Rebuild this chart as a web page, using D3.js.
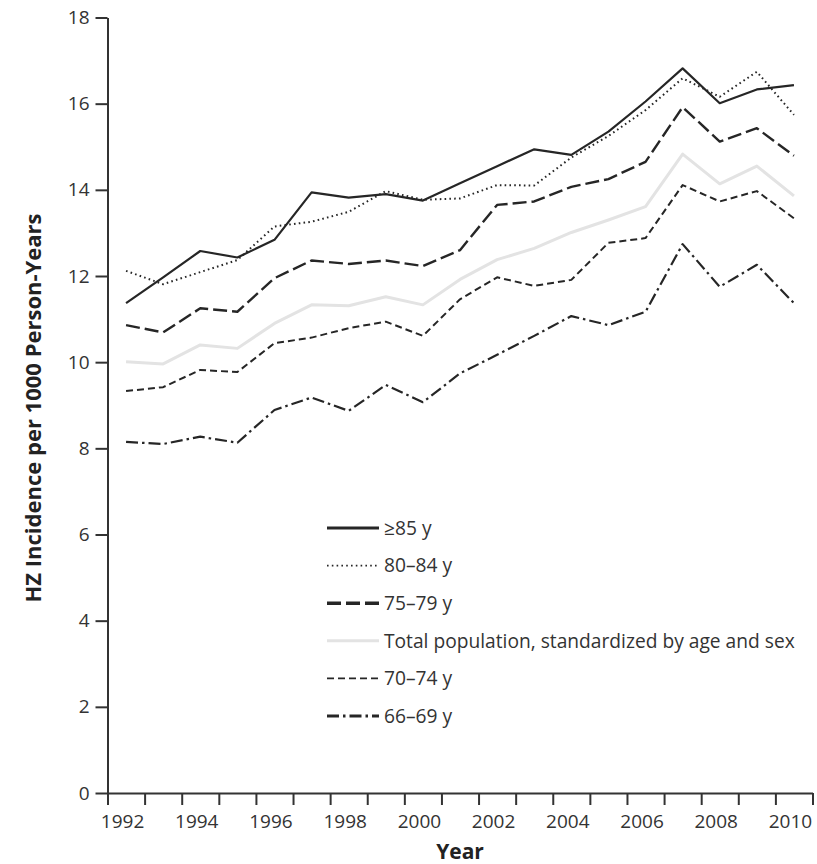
<!DOCTYPE html>
<html>
<head>
<meta charset="utf-8">
<script src="https://cdn.jsdelivr.net/npm/d3@7/dist/d3.min.js"></script>
<style>
  html, body { margin: 0; padding: 0; background: #fff; }
  svg { display: block; font-family: "Open Sans", Lato, sans-serif; }
</style>
</head>
<body>
<svg id="chart" width="817" height="864"></svg>
<script>
// Herpes zoster incidence per 1000 person-years, by age group
const years = d3.range(1992, 2011);
const yearLabels = [1992, 1994, 1996, 1998, 2000, 2002, 2004, 2006, 2008, 2010];
const yTicks = [0, 2, 4, 6, 8, 10, 12, 14, 16, 18];

const seriesNames = ["≥85 y", "80–84 y", "75–79 y",
  "Total population, standardized by age and sex", "70–74 y", "66–69 y"];

const age85plus = [11.37, 11.97, 12.58, 12.43, 12.84, 13.94, 13.82, 13.90, 13.75, 14.15,
  14.55, 14.94, 14.81, 15.35, 16.05, 16.82, 16.01, 16.33, 16.43];
const age80to84 = [12.12, 11.81, 12.09, 12.37, 13.15, 13.26, 13.49, 13.97, 13.77, 13.80,
  14.11, 14.10, 14.75, 15.25, 15.85, 16.59, 16.16, 16.74, 15.74];
const age75to79 = [10.86, 10.69, 11.25, 11.17, 11.95, 12.36, 12.28, 12.36, 12.23, 12.60,
  13.65, 13.73, 14.07, 14.25, 14.65, 15.92, 15.12, 15.43, 14.79];
const totalStd = [10.01, 9.96, 10.40, 10.32, 10.90, 11.33, 11.31, 11.52, 11.33, 11.92,
  12.38, 12.64, 13.01, 13.30, 13.61, 14.83, 14.14, 14.55, 13.86];
const age70to74 = [9.33, 9.42, 9.82, 9.77, 10.44, 10.57, 10.79, 10.94, 10.61, 11.46,
  11.97, 11.77, 11.91, 12.77, 12.88, 14.11, 13.73, 13.97, 13.34];
const age66to69 = [8.15, 8.10, 8.27, 8.13, 8.89, 9.18, 8.87, 9.47, 9.07, 9.74,
  10.17, 10.61, 11.07, 10.86, 11.17, 12.74, 11.75, 12.26, 11.37];

const seriesValues = [age85plus, age80to84, age75to79, totalStd, age70to74, age66to69];

// line styles for each series, in the same order
const styles = [
  { stroke: "#262626", width: 2.2, dash: null, legendWidth: 3 },
  { stroke: "#262626", width: 2, dash: "1.6,3.2", legendWidth: 1.6 },
  { stroke: "#262626", width: 2.4, dash: "14,5", legendWidth: 3.4 },
  { stroke: "#e3e3e3", width: 3, dash: null, legendWidth: 3 },
  { stroke: "#262626", width: 2, dash: "7,4", legendWidth: 1.8 },
  { stroke: "#262626", width: 2.2, dash: "12,4,2.5,4", legendWidth: 3 }
];

const svg = d3.select("#chart");
const axisColor = "#333";

const x = d3.scaleLinear().domain([1991.5, 2010.5]).range([107.5, 812.5]);
const y = d3.scaleLinear().domain([0, 18]).range([793, 17.5]);

// x axis: ticks on year boundaries, labels centred in the year interval
const xAxis = svg.append("g")
  .attr("transform", `translate(0,${y(0)})`)
  .call(d3.axisBottom(x)
    .tickValues(d3.range(1991.5, 2011, 1))
    .tickSize(12).tickSizeOuter(0)
    .tickFormat(""));
xAxis.select(".domain").attr("stroke", axisColor).attr("stroke-width", 2);
xAxis.selectAll(".tick line").attr("stroke", axisColor).attr("stroke-width", 2);

const xLabels = svg.append("g")
  .attr("transform", `translate(0,${y(0)})`)
  .call(d3.axisBottom(x).tickValues(yearLabels).tickSize(0).tickPadding(22).tickFormat(d3.format("d")));
xLabels.select(".domain").remove();
xLabels.selectAll("text")
  .attr("font-size", 19).attr("font-family", "'Open Sans', sans-serif")
  .attr("fill", "#333").attr("dx", -4);

// y axis
const yAxis = svg.append("g")
  .attr("transform", `translate(${x(1991.5)},0)`)
  .call(d3.axisLeft(y).tickValues(yTicks).tickSize(12).tickSizeOuter(0).tickPadding(6));
yAxis.select(".domain").attr("stroke", axisColor).attr("stroke-width", 2);
yAxis.selectAll(".tick line").attr("stroke", axisColor).attr("stroke-width", 2);
yAxis.selectAll("text")
  .attr("font-size", 19).attr("font-family", "'Open Sans', sans-serif").attr("fill", "#333");

// axis titles
svg.append("text")
  .attr("x", 460).attr("y", 859)
  .attr("text-anchor", "middle")
  .attr("font-size", 21).attr("font-weight", "bold").attr("fill", "#222")
  .text("Year");

svg.append("text")
  .attr("transform", "translate(41,408) rotate(-90)")
  .attr("text-anchor", "middle")
  .attr("font-size", 22).attr("font-weight", "bold").attr("fill", "#222")
  .text("HZ Incidence per 1000 Person-Years");

// series lines (total population drawn first so it sits underneath)
const line = d3.line()
  .x((d, i) => x(years[i]))
  .y(d => y(d));

const drawOrder = [3, 5, 4, 2, 1, 0];
const linesG = svg.append("g");
drawOrder.forEach(k => {
  linesG.append("path")
    .datum(seriesValues[k])
    .attr("d", line)
    .attr("fill", "none")
    .attr("stroke", styles[k].stroke)
    .attr("stroke-width", styles[k].width)
    .attr("stroke-dasharray", styles[k].dash)
    .attr("stroke-linejoin", "round");
});

// legend
const legend = svg.append("g").attr("transform", "translate(327,528)");
seriesNames.forEach((name, i) => {
  const row = legend.append("g").attr("transform", `translate(0,${i * 37.6})`);
  row.append("line")
    .attr("x1", 0).attr("x2", 52).attr("y1", 0).attr("y2", 0)
    .attr("stroke", styles[i].stroke)
    .attr("stroke-width", styles[i].legendWidth)
    .attr("stroke-dasharray", styles[i].dash);
  row.append("text")
    .attr("x", 57).attr("y", 0).attr("dy", "0.35em")
    .attr("font-size", 19.2).attr("fill", "#333")
    .text(name);
});
</script>
</body>
</html>
